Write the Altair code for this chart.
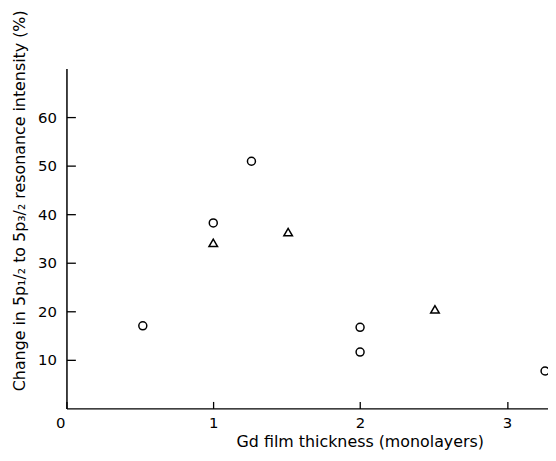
import altair as alt
import pandas as pd

# Data
circle_x = [0.52, 1.0, 1.26, 2.0, 2.0, 3.26]
circle_y = [17.0, 38.2, 50.9, 16.7, 11.6, 7.7]
tri_x = [1.0, 1.51, 2.51]
tri_y = [34.1, 36.3, 20.4]
x_ticks = [0, 1, 2, 3]
y_ticks = [10, 20, 30, 40, 50, 60]

FONT = "DejaVu Sans, sans-serif"
W, H = 486, 343

df = pd.DataFrame({
    "x": circle_x + tri_x,
    "y": circle_y + tri_y,
    "s": ["circle"] * len(circle_x) + ["triangle"] * len(tri_x),
})

xs = alt.Scale(domain=[0, 3.28], nice=False, zero=False)
ys = alt.Scale(domain=[0, 70], nice=False, zero=False)

x_axis = alt.Axis(
    values=x_ticks, format="d", tickSize={"expr": "-7"}, tickWidth=1.3, tickColor="black",
    labelPadding=14, labelFontSize=15,
    labelOffset={"expr": "datum.value == 0 ? -11 : 0"}, grid=False,
    title="Gd film thickness  (monolayers)", titleX=296, titleY=33,
    titleBaseline="middle",
    titleFontSize=16, titleFontWeight="normal", domainWidth=1.5)
y_axis = alt.Axis(
    values=y_ticks, format="d", tickSize={"expr": "-9"}, tickWidth=1.3, tickColor="black",
    labelPadding=19, labelFontSize=15,
    grid=False,
    title="Change in 5p\u2081/\u2082 to 5p\u2083/\u2082 resonance intensity (%)",
    titleX=-47, titleY=133, titleAngle=270, titleAlign="center",
    titleBaseline="middle", titleFontSize=16, titleFontWeight="normal",
    domainWidth=1.5)

points = alt.Chart(df).mark_point(filled=False, strokeWidth=1.5, color="black", opacity=1).encode(
    x=alt.X("x:Q", scale=xs, axis=x_axis),
    y=alt.Y("y:Q", scale=ys, axis=y_axis),
    shape=alt.Shape("s:N", scale=alt.Scale(domain=["circle", "triangle"],
                                          range=["circle", "triangle-up"]), legend=None),
    size=alt.Size("s:N", scale=alt.Scale(domain=["circle", "triangle"], range=[65, 75]), legend=None),
)

chart = points.properties(
    width=W, height=H, background="white",
    autosize=alt.AutoSizeParams(type="none"),
    padding={"left": 59, "top": 59, "right": 0, "bottom": 50},
).configure_view(stroke=None).configure_axis(
    grid=False, domainColor="black", labelColor="black", titleColor="black",
    labelFont=FONT, titleFont=FONT,
)

chart.save("out.html", embed_options={"renderer": "svg", "actions": False})
